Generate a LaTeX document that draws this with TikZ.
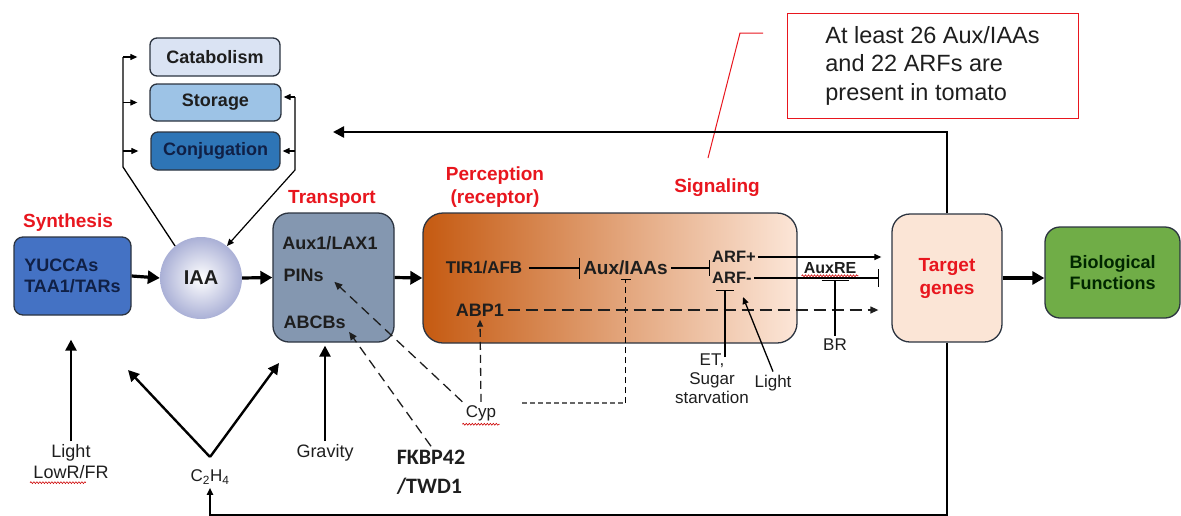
\documentclass[tikz,border=0pt]{standalone}
\usepackage{fontspec}
\setmainfont{Liberation Sans}
\newfontfamily\calibfont{Carlito}
\usetikzlibrary{arrows.meta,decorations.pathmorphing}

\definecolor{boxline}{RGB}{44,52,64}
\definecolor{catfill}{RGB}{218,227,243}
\definecolor{stofill}{RGB}{157,195,230}
\definecolor{conjfill}{RGB}{46,117,182}
\definecolor{synfill}{RGB}{68,114,196}
\definecolor{trnfill}{RGB}{132,151,176}
\definecolor{percdark}{RGB}{197,90,17}
\definecolor{percmid}{RGB}{244,177,131}
\definecolor{perclight}{RGB}{252,230,216}
\definecolor{tgtfill}{RGB}{251,229,214}
\definecolor{biofill}{RGB}{112,173,71}
\definecolor{hdred}{RGB}{232,22,30}
\definecolor{navytxt}{RGB}{16,32,70}
\definecolor{txt}{RGB}{30,30,30}

\begin{document}
\begin{tikzpicture}[x=1pt, y=-1pt, %Vía de señalización de auxina
    box/.style={draw=boxline, line width=1.3pt, rounded corners=7pt, inner sep=0pt},
    lbl/.style={font=\fontsize{18}{21}\selectfont\bfseries, text=txt},
    redhd/.style={font=\fontsize{19}{23}\selectfont\bfseries, text=hdred, align=center},
    plain/.style={font=\fontsize{17}{19.5}\selectfont, text=txt, align=center},
    bigarr/.style={line width=3.2pt, -{Triangle[length=12pt,width=13pt]}},
    midarr/.style={line width=2.4pt, -{Triangle[length=11pt,width=11pt]}},
    smallarr/.style={line width=1.2pt, -{Triangle[length=7pt,width=6pt]}},
    teeline/.style={line width=1.2pt, -{Bar[width=#1]}},
    dashline/.style={line width=1.3pt, draw=txt, dash pattern=on 10pt off 6pt},
    wavy/.style={draw=red!80!black, line width=0.6pt, decorate,
        decoration={snake, amplitude=0.9pt, segment length=3pt}}
]
    \useasboundingbox (0,0) rectangle (1181,515);

    \coordinate (lb) at (123,167);
    \coordinate (rb) at (295,170);
    \coordinate (rt) at (295,97);
    \coordinate (vee) at (210,457);
    \coordinate (c2l) at (128,370);
    \coordinate (c2r) at (279,363);
    \coordinate (fbtop) at (333,132);
    \coordinate (fbbot) at (210,515.6);
    \coordinate (cypdot) at (522,403);
    \coordinate (etend) at (725,357);
    \coordinate (lighttip) at (743,297);
    \coordinate (ld1) at (763,33);
    \coordinate (ld2) at (740,33);
    \coordinate (ld3) at (708,158);

    \node[box, lbl, fill=catfill, minimum width=130pt, minimum height=38pt] (cat) at (215,57) {Catabolism};
    \node[box, lbl, fill=stofill, minimum width=131pt, minimum height=37pt] (sto) at (215.5,102.5) {Storage};
    \node[box, lbl, fill=conjfill, text=navytxt, minimum width=129pt, minimum height=38pt] (conj) at (215.5,151) {Conjugation};

    \node[box, lbl, fill=synfill, text=navytxt, align=left, minimum width=117pt, minimum height=78pt, rounded corners=9pt] (syn) at (72.5,276) {YUCCAs\\TAA1/TARs};
    \node[redhd] (synhd) at (68,223) {Synthesis};
    \node[circle, minimum size=82pt, inner color=white, outer color={rgb,255:red,170;green,176;blue,214}, lbl, font=\fontsize{20}{22}\selectfont\bfseries] (iaa) at (201,278) {IAA};

    \node[box, fill=trnfill, minimum width=121pt, minimum height=129pt, rounded corners=16pt] (trn) at (333.5,277.5) {};
    \node[redhd] (trnhd) at (332,199) {Transport};
    \node[lbl] (lax) at (330,243) {Aux1/LAX1};
    \node[lbl, anchor=west] (pins) at (280,275) {PINs};
    \node[lbl, anchor=west] (abcb) at (280,322) {ABCBs};

    \node[box, left color=percdark, middle color=percmid, right color=perclight, minimum width=374pt, minimum height=130pt, rounded corners=20pt] (perc) at (610,278) {};
    \node[redhd] (perchd) at (495,187.5) {Perception\\(receptor)};
    \node[redhd] (sighd) at (717,188) {Signaling};
    \node[lbl, font=\fontsize{17}{19}\selectfont\bfseries] (tir) at (484,268) {TIR1/AFB};
    \node[lbl, font=\fontsize{19}{21}\selectfont\bfseries] (aux) at (625.5,268) {Aux/IAAs};
    \node[lbl, anchor=west, font=\fontsize{16.5}{18}\selectfont\bfseries, inner sep=2pt] (arfp) at (710,257) {ARF+};
    \node[lbl, anchor=west, font=\fontsize{16.5}{18}\selectfont\bfseries, inner sep=2pt] (arfm) at (710,278) {ARF-};
    \node[lbl] (abp) at (480,310) {ABP1};

    \node[box, fill=tgtfill, minimum width=110pt, minimum height=128pt, rounded corners=18pt, redhd] (tgt) at (947,278) {Target\\genes};
    \node[box, fill=biofill, minimum width=135pt, minimum height=91pt, rounded corners=15pt, lbl, text=black!85!green, align=center] (bio) at (1112.5,272.5) {Biological\\Functions};

    \node[lbl, font=\fontsize{16}{18}\selectfont\bfseries, inner sep=2pt] (auxre) at (830,268) {AuxRE};
    \node[plain] (br) at (835,345) {BR};
    \node[plain, font=\fontsize{17}{19}\selectfont] (etsug) at (712,379) {ET,\\Sugar\\starvation};
    \node[plain] (lgtarf) at (773,383) {Light};
    \node[plain] (cyp) at (481,413) {Cyp};
    \node[lbl, font=\fontsize{22}{29}\selectfont\calibfont\bfseries, align=left] (fkbp) at (431,472) {FKBP42\\/TWD1};
    \node[plain, font=\fontsize{18}{20}\selectfont] (grav) at (325,453) {Gravity};
    \node[plain, font=\fontsize{18}{21}\selectfont] (lgt) at (71,462) {Light\\LowR/FR};
    \node[plain] (c2) at (210,477) {C\textsubscript{2}H\textsubscript{4}};

    \node[draw=hdred, line width=1pt, minimum width=291pt, minimum height=105pt, align=left, text=txt, font=\fontsize{23.5}{28.5}\selectfont] (note) at (932.5,65.5) {At least 26 Aux/IAAs\\and 22 ARFs are\\present in tomato};
    \draw[hdred, line width=1pt] (ld1) -- (ld2) -- (ld3);

    % fate of IAA
    \draw[line width=1.3pt] (iaa.129) -- (lb) -- (lb |- cat.west);
    \draw[smallarr, shorten >=12pt] (lb |- cat.west) -- (cat.west);
    \draw[smallarr, shorten >=12pt] (lb |- sto.west) -- (sto.west);
    \draw[smallarr, shorten >=12pt] (lb |- conj.west) -- (conj.west);
    \draw[smallarr] (rt) -- (rb) -- (iaa.51);
    \draw[smallarr, shorten >=2pt] (rt) -- (sto.east |- rt);
    \draw[smallarr, shorten >=2pt] (rb |- conj.east) -- (conj.east);

    % main chain
    \draw[bigarr] (syn.east) -- (iaa.west);
    \draw[bigarr] (iaa.east) -- (trn.west);
    \draw[bigarr] (trn.east) -- (perc.west);
    \draw[bigarr] (tgt.east) -- (tgt.east -| bio.west);
    \draw[midarr] (tgt.north) |- (fbtop);
    \draw[line width=2.4pt] (tgt.south) |- (fbbot);
    \draw[smallarr, line width=2pt] (fbbot) -- (c2.south);

    % regulators
    \draw[midarr, shorten >=24pt] (lgt.north) -- (lgt.north |- syn.south);
    \draw[midarr, shorten >=3pt] (grav.north) -- (grav.north |- trn.south);
    \draw[midarr] (vee) -- (c2l);
    \draw[midarr] (vee) -- (c2r);
    \draw[dashline, -{Triangle[length=8pt,width=7pt]}] (fkbp.north) -- (abcb.south east);
    \draw[dashline, -{Triangle[length=8pt,width=7pt]}, shorten >=10pt] (cyp.north west) -- (pins.east);
    \draw[dashline, dash pattern=on 8pt off 5pt, -{Triangle[length=7pt,width=6pt]}] (cyp.north) -- (abp.south);
    \draw[line width=1.3pt, draw=black!60, dash pattern=on 5pt off 3pt] (cypdot) -- (aux.south |- cypdot);
    \draw[line width=1.2pt, dash pattern=on 6pt off 4pt, -{Bar[width=10pt]}] (aux.south |- cypdot) -- (aux.south);

    % signalling
    \draw[teeline=21pt, shorten <=3pt] (tir.east) -- (aux.west);
    \draw[teeline=16pt] (aux.east) -- (aux.east -| arfp.west);
    \draw[smallarr, shorten >=10pt] (arfp.east) -- (arfp.east -| tgt.west);
    \draw[teeline=18pt, shorten >=12pt] (arfm.east) -- (arfm.east -| tgt.west);
    \draw[dashline, dash pattern=on 12pt off 6pt, -{Triangle[length=8pt,width=7pt]}, shorten >=13pt] (abp.east) -- (abp.east -| tgt.west);
    \draw[teeline=27pt, shorten >=4pt] (br.north) -- (br.north |- auxre.south);
    \draw[teeline=18pt, shorten >=4pt] (etend) -- (etend |- arfm.south);
    \draw[smallarr, line width=1.3pt] (lgtarf.north) -- (lighttip);

    % spell-check marks
    \draw[wavy] (auxre.south west) -- (auxre.south east);
    \draw[wavy] (cyp.south west) -- (cyp.south east);
    \draw[wavy] (lgt.south west) -- ++(56,0);
\end{tikzpicture}
\end{document}
